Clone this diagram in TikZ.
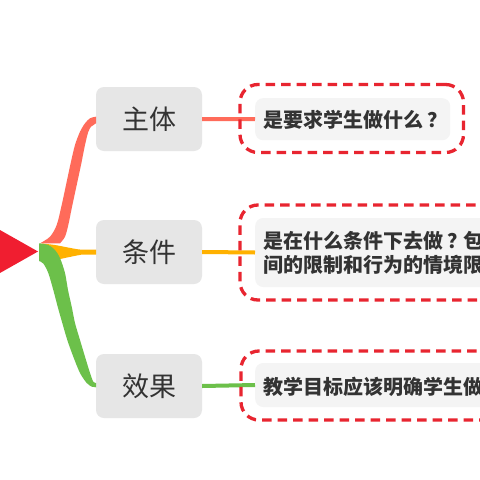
\documentclass[tikz,border=0pt]{standalone}
\usepackage{fontspec}
\newfontfamily\cjk{Noto Sans CJK SC}
\definecolor{coral}{HTML}{FF6B5A}
\definecolor{amber}{HTML}{FFB100}
\definecolor{leaf}{HTML}{6CC04A}
\definecolor{rootred}{HTML}{F01E30}
\definecolor{dashred}{HTML}{E82530}
\definecolor{boxgray}{HTML}{E6E6E6}
\definecolor{innergray}{HTML}{F4F4F4}
\definecolor{ink}{HTML}{333333}
\newcommand\qmk{\kern4pt？\kern-4pt}
\tikzset{
  catbox/.style={rounded corners=8pt, fill=boxgray, minimum width=106pt, minimum height=64pt,
    inner sep=0pt, text=ink, font=\cjk\fontsize{27}{27}\selectfont},
  dashbox/.style={rounded corners=18pt, draw=dashred, line width=3.3pt, dash pattern=on 9.5pt off 6pt,
    inner sep=0pt},
  innerbox/.style={rounded corners=8pt, fill=innergray, inner sep=0pt, anchor=west},
  itext/.style={inner sep=0pt, anchor=west, text=ink, align=left,
    font=\cjk\bfseries\fontsize{20}{23.5}\selectfont},
  link/.style={line width=4pt}
}
\begin{document}
\begin{tikzpicture}[x=1pt,y=-1pt]
\useasboundingbox (0,0) rectangle (480,480);
\clip (0,0) rectangle (480,480);
\fill[white] (0,0) rectangle (480,480);
% root
\fill[rootred] (-5,227.2) -- (38,251.5) -- (-5,275.8) -- cycle;
\coordinate (root) at (40,252);
% category boxes
\node[catbox] (zt) at (149,119) {主体};
\node[catbox] (tj) at (149,252) {条件};
\node[catbox] (xg) at (149,386) {效果};
% inner boxes
\node[innerbox, minimum width=195pt, minimum height=42pt] (i1) at (255,119.2) {};
\node[innerbox, minimum width=300pt, minimum height=69pt] (i2) at (255,252.5) {};
\node[innerbox, minimum width=300pt, minimum height=44pt] (i3) at (255,385) {};
% tapered branches
\fill[coral] plot[smooth] coordinates {(40,243.3) (50,236.7) (56.7,225) (61.7,205) (66.7,181.7) (71,161.7) (75,145) (80,131.7) (85,123.3) (90,118.3) (96,116.7)}
  -- (96,123.3) -- plot[smooth] coordinates {(91,126.7) (88.3,131.7) (85,145) (81,165) (76.7,185) (71.7,208.3) (68.3,225) (65,236.7) (60,243.3)} -- cycle;
\fill[amber] plot[smooth] coordinates {(42,243.5) (55,245) (68,247.5) (80,249.5) (96,249.5)}
  -- (96,254.5) -- plot[smooth] coordinates {(82,254.5) (68,257.3) (55,260) (42,261)} -- cycle;
\fill[leaf] plot[smooth] coordinates {(39,243.3) (48.3,245) (55,250) (60,258) (65,273) (68,290) (71.7,306.7) (75,323) (80,340) (85,356.7) (90,373) (93.3,381.7) (96,383)}
  -- (96,387.3) -- plot[smooth] coordinates {(91.7,386.7) (86.7,383) (80,373) (73.3,356.7) (67.3,340) (62.3,323) (57.7,306.7) (53.3,290) (48.3,273) (43.3,263.5) (39,261)} -- cycle;
% links to detail boxes
\draw[link, coral] (zt.east) -- (i1.west);
\draw[link, amber] (tj.east) -- (i2.west);
\draw[link, leaf] (xg.east) -- (i3.west);
% dashed frames
\node[dashbox, minimum width=223.5pt, minimum height=68pt] (d1) at (351.75,118.5) {};
\node[dashbox, minimum width=300pt, minimum height=95pt] (d2) at (390,252.5) {};
\node[dashbox, minimum width=300pt, minimum height=69pt] (d3) at (391,385.5) {};
% texts
\node[itext] (t1) at (263,120) {是要求学生做什么\qmk};
\node[itext] (t2) at (263,253) {是在什么条件下去做\qmk 包\\间的限制和行为的情境限};
\node[itext] (t3) at (263,386.5) {教学目标应该明确学生做};
\end{tikzpicture}
\end{document}
